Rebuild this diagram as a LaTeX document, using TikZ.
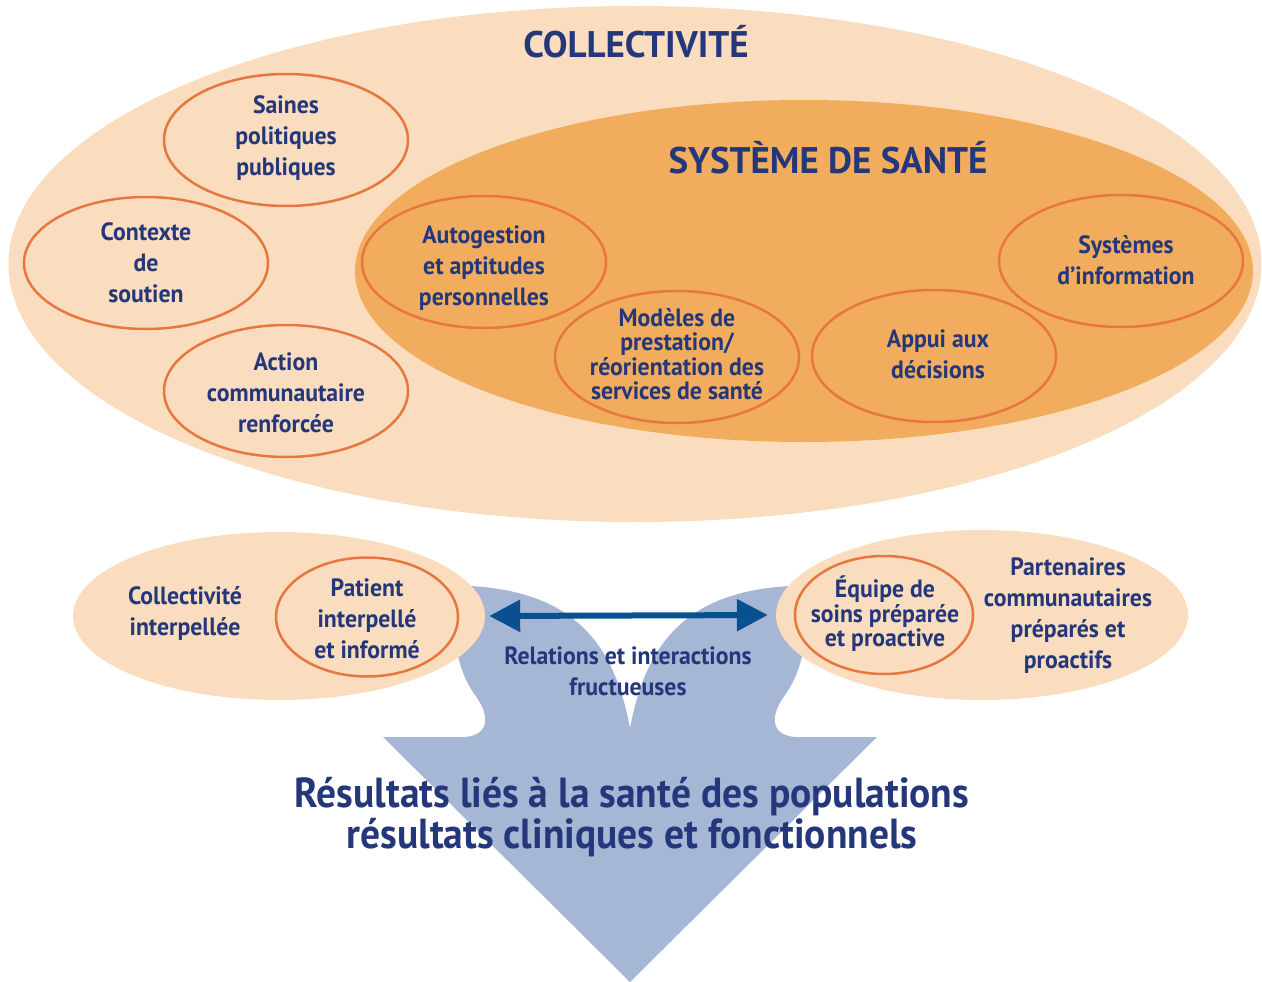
\documentclass[tikz,border=0pt]{standalone}
\usepackage{fontspec}
\setmainfont{PT Sans}
\newfontfamily\etroit{PT Sans}[FakeStretch=0.95]
\newfontfamily\moyen{PT Sans}[FakeStretch=0.94]
\usetikzlibrary{shapes.geometric,arrows.meta,positioning}
\definecolor{peche}{HTML}{FADDBE}
\definecolor{orangefonce}{HTML}{F1AD5D}
\definecolor{trait}{HTML}{E8773F}
\definecolor{marine}{HTML}{24377A}
\definecolor{bleuflou}{HTML}{A6B6D5}
\definecolor{bleufonce}{HTML}{08508F}
\tikzset{bulle/.style={ellipse, draw=trait, line width=2.5pt, minimum width=244pt, minimum height=132pt}}
\tikzset{fond/.style={ellipse, fill=peche, inner sep=0pt}}
\tikzstyle{txt}=[text=marine, align=center, inner sep=0pt, font=\etroit\bfseries\fontsize{25}{31}\selectfont]
\tikzstyle{serre}=[txt, font=\etroit\bfseries\fontsize{25}{24.5}\selectfont]
\tikzstyle{titre}=[text=marine, inner sep=0pt, font=\bfseries\fontsize{37}{40}\selectfont]

\begin{document}
\begin{tikzpicture}[x=1pt, y=-1pt]
\useasboundingbox (0,0) rectangle (1262,982);
% collectivite et systeme de sante
\node[fond, minimum width=1253pt, minimum height=516pt] (coll) at (635,264) {};
\node[ellipse, fill=orangefonce, inner sep=0pt, minimum width=898pt, minimum height=342pt] (sys) at (804,271) {};
\node[titre] (tcoll) at (636,42) {COLLECTIVITÉ};
\node[titre] (tsys) at (828,158) {SYSTÈME DE SANTÉ};
\node[bulle] (E1) at (286,140) {};
\node[bulle] (E2) at (146,263) {};
\node[bulle] (E3) at (286,391) {};
\node[bulle] (S1) at (484,262) {};
\node[bulle] (S2) at (677,357) {};
\node[bulle] (S3) at (934,356) {};
\node[bulle] (S4) at (1121,261) {};
\node[txt] (t1) at (286,138) {Saines\\politiques\\publiques};
\node[txt] (t2) at (146,263) {Contexte\\de\\soutien};
\node[txt] (t3) at (286,393) {Action\\communautaire\\renforcée};
\node[txt] (t4) at (484,268) {Autogestion\\et aptitudes\\personnelles};
\node[serre] (t5) at (677,354) {Modèles de\\prestation/\\réorientation des\\services de santé};
\node[txt] (t6) at (938,354) {Appui aux\\décisions};
\node[txt] (t7) at (1126,260) {Systèmes\\d’information};
% grande fleche
\fill[bleuflou] (630,728) .. controls (615,650) and (580,592) .. (470,586)
  .. controls (450,610) and (450,660) .. (475,695)
  .. controls (490,715) and (490,735) .. (465,737)
  -- (383,737) -- (630,982) -- (877,737) -- (795,737)
  .. controls (770,735) and (770,715) .. (785,695)
  .. controls (810,660) and (810,610) .. (790,586)
  .. controls (680,592) and (645,650) .. (630,728) -- cycle;
% patient et equipe
\node[fond, minimum width=412pt, minimum height=168pt] (cg) at (279,616) {};
\node[fond, minimum width=412pt, minimum height=170pt] (cd) at (982,615) {};
\node[bulle, minimum width=182pt, minimum height=119pt] (P) at (367,617) {};
\node[bulle, minimum width=178pt, minimum height=118pt] (Q) at (884,615) {};
\node[txt] (t8) at (185,613) {Collectivité\\interpellée};
\node[txt] (t9) at (367,619) {Patient\\interpellé\\et informé};
\node[serre] (t10) at (885,614) {Équipe de\\soins préparée\\et proactive};
\node[txt] (t11) at (1068,616) {Partenaires\\communautaires\\préparés et\\proactifs};
\draw[bleufonce, line width=6pt, {Triangle[length=31pt,width=31pt]}-{Triangle[length=31pt,width=31pt]}, shorten <=4pt, shorten >=8pt] (cg.east) -- (cd.west);
\node[txt] (t12) at (628,671) {Relations et interactions\\fructueuses};
\node[titre, align=center, font=\moyen\bfseries\fontsize{42}{41}\selectfont] (res) at (632,817) {Résultats liés à la santé des populations\\résultats cliniques et fonctionnels};
\end{tikzpicture}
\end{document}
